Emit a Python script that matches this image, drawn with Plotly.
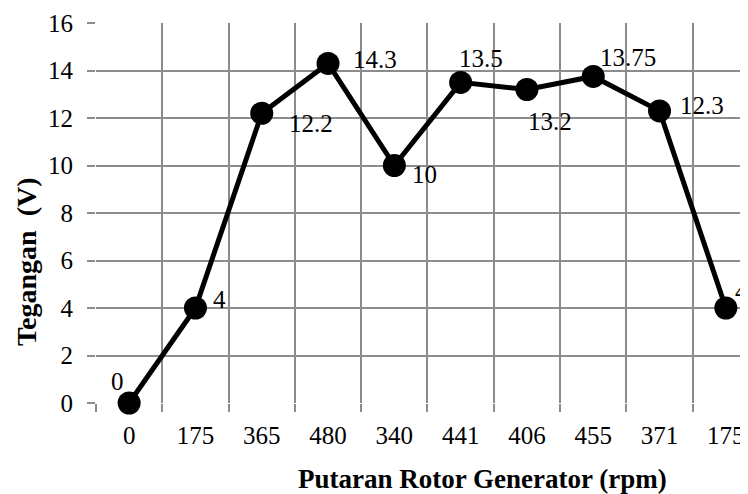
import plotly.graph_objects as go

rpm_labels = ["0", "175", "365", "480", "340", "441", "406", "455", "371", "175"]
tegangan = [0, 4, 12.2, 14.3, 10, 13.5, 13.2, 13.75, 12.3, 4]
value_text = ["0", "4", "12.2", "14.3", "10", "13.5", "13.2", "13.75", "12.3", "4"]

# label offsets (pixels) per point
label_dx = [-12, 24, 49, 47, 30, 20, 23, 35, 42, 16]
label_dy = [22, 9, -10, 4, -9, 24, -32, 19, 5, 17]

idx = list(range(len(rpm_labels)))
font_family = "Liberation Serif"
grid_col = "#8c8c8c"

fig = go.Figure()
fig.add_trace(go.Scatter(
    x=idx, y=tegangan, mode="lines+markers",
    line=dict(color="black", width=5),
    marker=dict(color="black", size=23),
    cliponaxis=False, showlegend=False, hoverinfo="skip",
))

for i in idx:
    fig.add_annotation(
        x=i, y=tegangan[i], text=value_text[i], showarrow=False,
        xshift=label_dx[i], yshift=label_dy[i],
        font=dict(family=font_family, size=25, color="black"),
    )

fig.add_annotation(
    xref="paper", yref="paper", x=0.586, y=0, yshift=-76,
    xanchor="center", yanchor="middle", showarrow=False,
    text="<b>Putaran Rotor Generator (rpm)</b>",
    font=dict(family=font_family, size=27, color="black"),
)
fig.add_annotation(
    xref="paper", yref="paper", x=0, xshift=-70, y=0.371,
    xanchor="center", yanchor="middle", showarrow=False, textangle=-90,
    text="<b>Tegangan\u00a0\u00a0(V)</b>",
    font=dict(family=font_family, size=28, color="black"),
)

fig.update_layout(
    width=748, height=494,
    margin=dict(l=88, r=0, t=15, b=99),
    paper_bgcolor="white", plot_bgcolor="white",
    font=dict(family=font_family, size=25, color="black"),
    xaxis=dict(
        range=[-0.5, 9.455], tickmode="array", tickvals=idx, ticktext=rpm_labels,
        showgrid=False, zeroline=False, ticks="", showline=False, automargin=False,
        tickfont=dict(family=font_family, size=25, color="black"),
        ticklabelstandoff=15,
        minor=dict(tickmode="array", tickvals=[i - 0.5 for i in range(11)],
                   ticks="outside", ticklen=8, tickcolor=grid_col, tickwidth=1.5,
                   showgrid=True, gridcolor=grid_col, gridwidth=1.5),
    ),
    yaxis=dict(
        range=[0, 16], tickmode="array", tickvals=list(range(0, 17, 2)),
        showgrid=True, gridcolor=grid_col, gridwidth=1.5, zeroline=False,
        ticks="outside", ticklen=8, tickcolor=grid_col, tickwidth=1.5,
        ticklabelstandoff=9, automargin=False,
        tickfont=dict(family=font_family, size=25, color="black"),
    ),
)

fig.write_html("out.html")
